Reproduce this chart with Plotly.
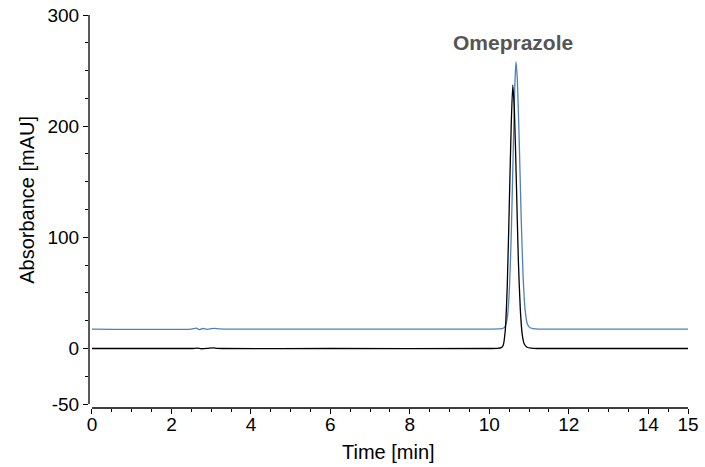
import plotly.graph_objects as go

# Black trace (time in min, absorbance in mAU)
black_t = [0.0, 2.5, 2.65, 2.75, 2.9, 3.05, 3.15, 3.3, 6.0, 10.0, 10.2, 10.3, 10.35,
           10.4, 10.45, 10.5, 10.55, 10.59, 10.63, 10.68, 10.73, 10.78, 10.83,
           10.88, 10.95, 11.05, 11.2, 15.0]
black_y = [0.0, 0.0, 0.3, -0.2, 0.1, 0.6, 0.1, 0.0, 0.0, 0.0, 0.2, 0.8, 3.0,
           16, 55, 125, 200, 237, 215, 150, 80, 35, 12,
           4.0, 1.2, 0.3, 0.0, 0.0]

# Blue trace
blue_t = [0.0, 2.5, 2.62, 2.7, 2.78, 2.9, 3.0, 3.08, 3.2, 3.4, 6.0, 10.0, 10.25,
          10.35, 10.4, 10.45, 10.5, 10.55, 10.6, 10.64, 10.67, 10.7, 10.75,
          10.8, 10.85, 10.9, 10.95, 11.0, 11.1, 11.3, 15.0]
blue_y = [17.5, 17.5, 18.3, 17.0, 18.0, 17.3, 17.8, 18.2, 17.6, 17.5, 17.5, 17.5, 17.6,
          18.2, 20, 27, 50, 100, 175, 235, 258, 245, 190,
          120, 65, 35, 23, 19.5, 17.8, 17.5, 17.5]

peak_label = "Omeprazole"
peak_label_t = 10.6
peak_label_y = 275

x_ticks = [0, 2, 4, 6, 8, 10, 12, 14, 15]
y_ticks = [-50, 0, 100, 200, 300]

FONT = "Liberation Sans, Arial, Helvetica, sans-serif"

fig = go.Figure()
fig.add_trace(go.Scatter(x=blue_t, y=blue_y, mode="lines",
                         line=dict(color="#4f81b9", width=1.3, shape="spline", smoothing=0.6),
                         hoverinfo="skip", showlegend=False))
fig.add_trace(go.Scatter(x=black_t, y=black_y, mode="lines",
                         line=dict(color="#000000", width=1.3, shape="spline", smoothing=0.6),
                         hoverinfo="skip", showlegend=False))

fig.add_annotation(x=peak_label_t, y=peak_label_y, text="<b>" + peak_label + "</b>",
                   showarrow=False, font=dict(family=FONT, size=21, color="#555555"),
                   xanchor="center", yanchor="middle")

# axis titles
fig.add_annotation(x=0.5, y=-0.112, xref="paper", yref="paper", text="Time [min]",
                   showarrow=False, font=dict(family=FONT, size=20, color="#000"),
                   xanchor="center", yanchor="middle")
fig.add_annotation(x=-0.104, y=0.529, xref="paper", yref="paper", text="Absorbance [mAU]",
                   textangle=-90, showarrow=False,
                   font=dict(family=FONT, size=20, color="#000"),
                   xanchor="center", yanchor="middle")

# axis lines (offset like original)
fig.add_shape(type="line", xref="paper", yref="y", x0=0, x1=0, y0=-50, y1=300,
              line=dict(color="#000", width=1.3))
fig.add_shape(type="line", xref="x", yref="paper", x0=0, x1=15, y0=0, y1=0,
              line=dict(color="#000", width=1.3))

fig.update_xaxes(range=[-0.075, 15], tickmode="array", tickvals=x_ticks,
                 ticktext=[str(v) for v in x_ticks], automargin=False,
                 ticks="outside", ticklen=5, tickwidth=1.2, tickcolor="#000",
                 ticklabelstandoff=-6,
                 minor=dict(dtick=0.5, tick0=0, ticks="outside", ticklen=3,
                            tickwidth=1, tickcolor="#000"),
                 showline=False, showgrid=False, zeroline=False,
                 tickfont=dict(family=FONT, size=19, color="#000"))
fig.update_yaxes(range=[-53.5, 300], tickmode="array", tickvals=y_ticks,
                 ticktext=[str(v) for v in y_ticks], automargin=False,
                 ticks="outside", ticklen=5, tickwidth=1.2, tickcolor="#000",
                 minor=dict(dtick=25, tick0=0, ticks="outside", ticklen=3,
                            tickwidth=1, tickcolor="#000"),
                 showline=False, showgrid=False, zeroline=False,
                 tickfont=dict(family=FONT, size=19, color="#000"))

fig.update_layout(width=705, height=467, margin=dict(l=89, r=17, t=15, b=59),
                  paper_bgcolor="white", plot_bgcolor="white")

fig.write_html("out.html")
